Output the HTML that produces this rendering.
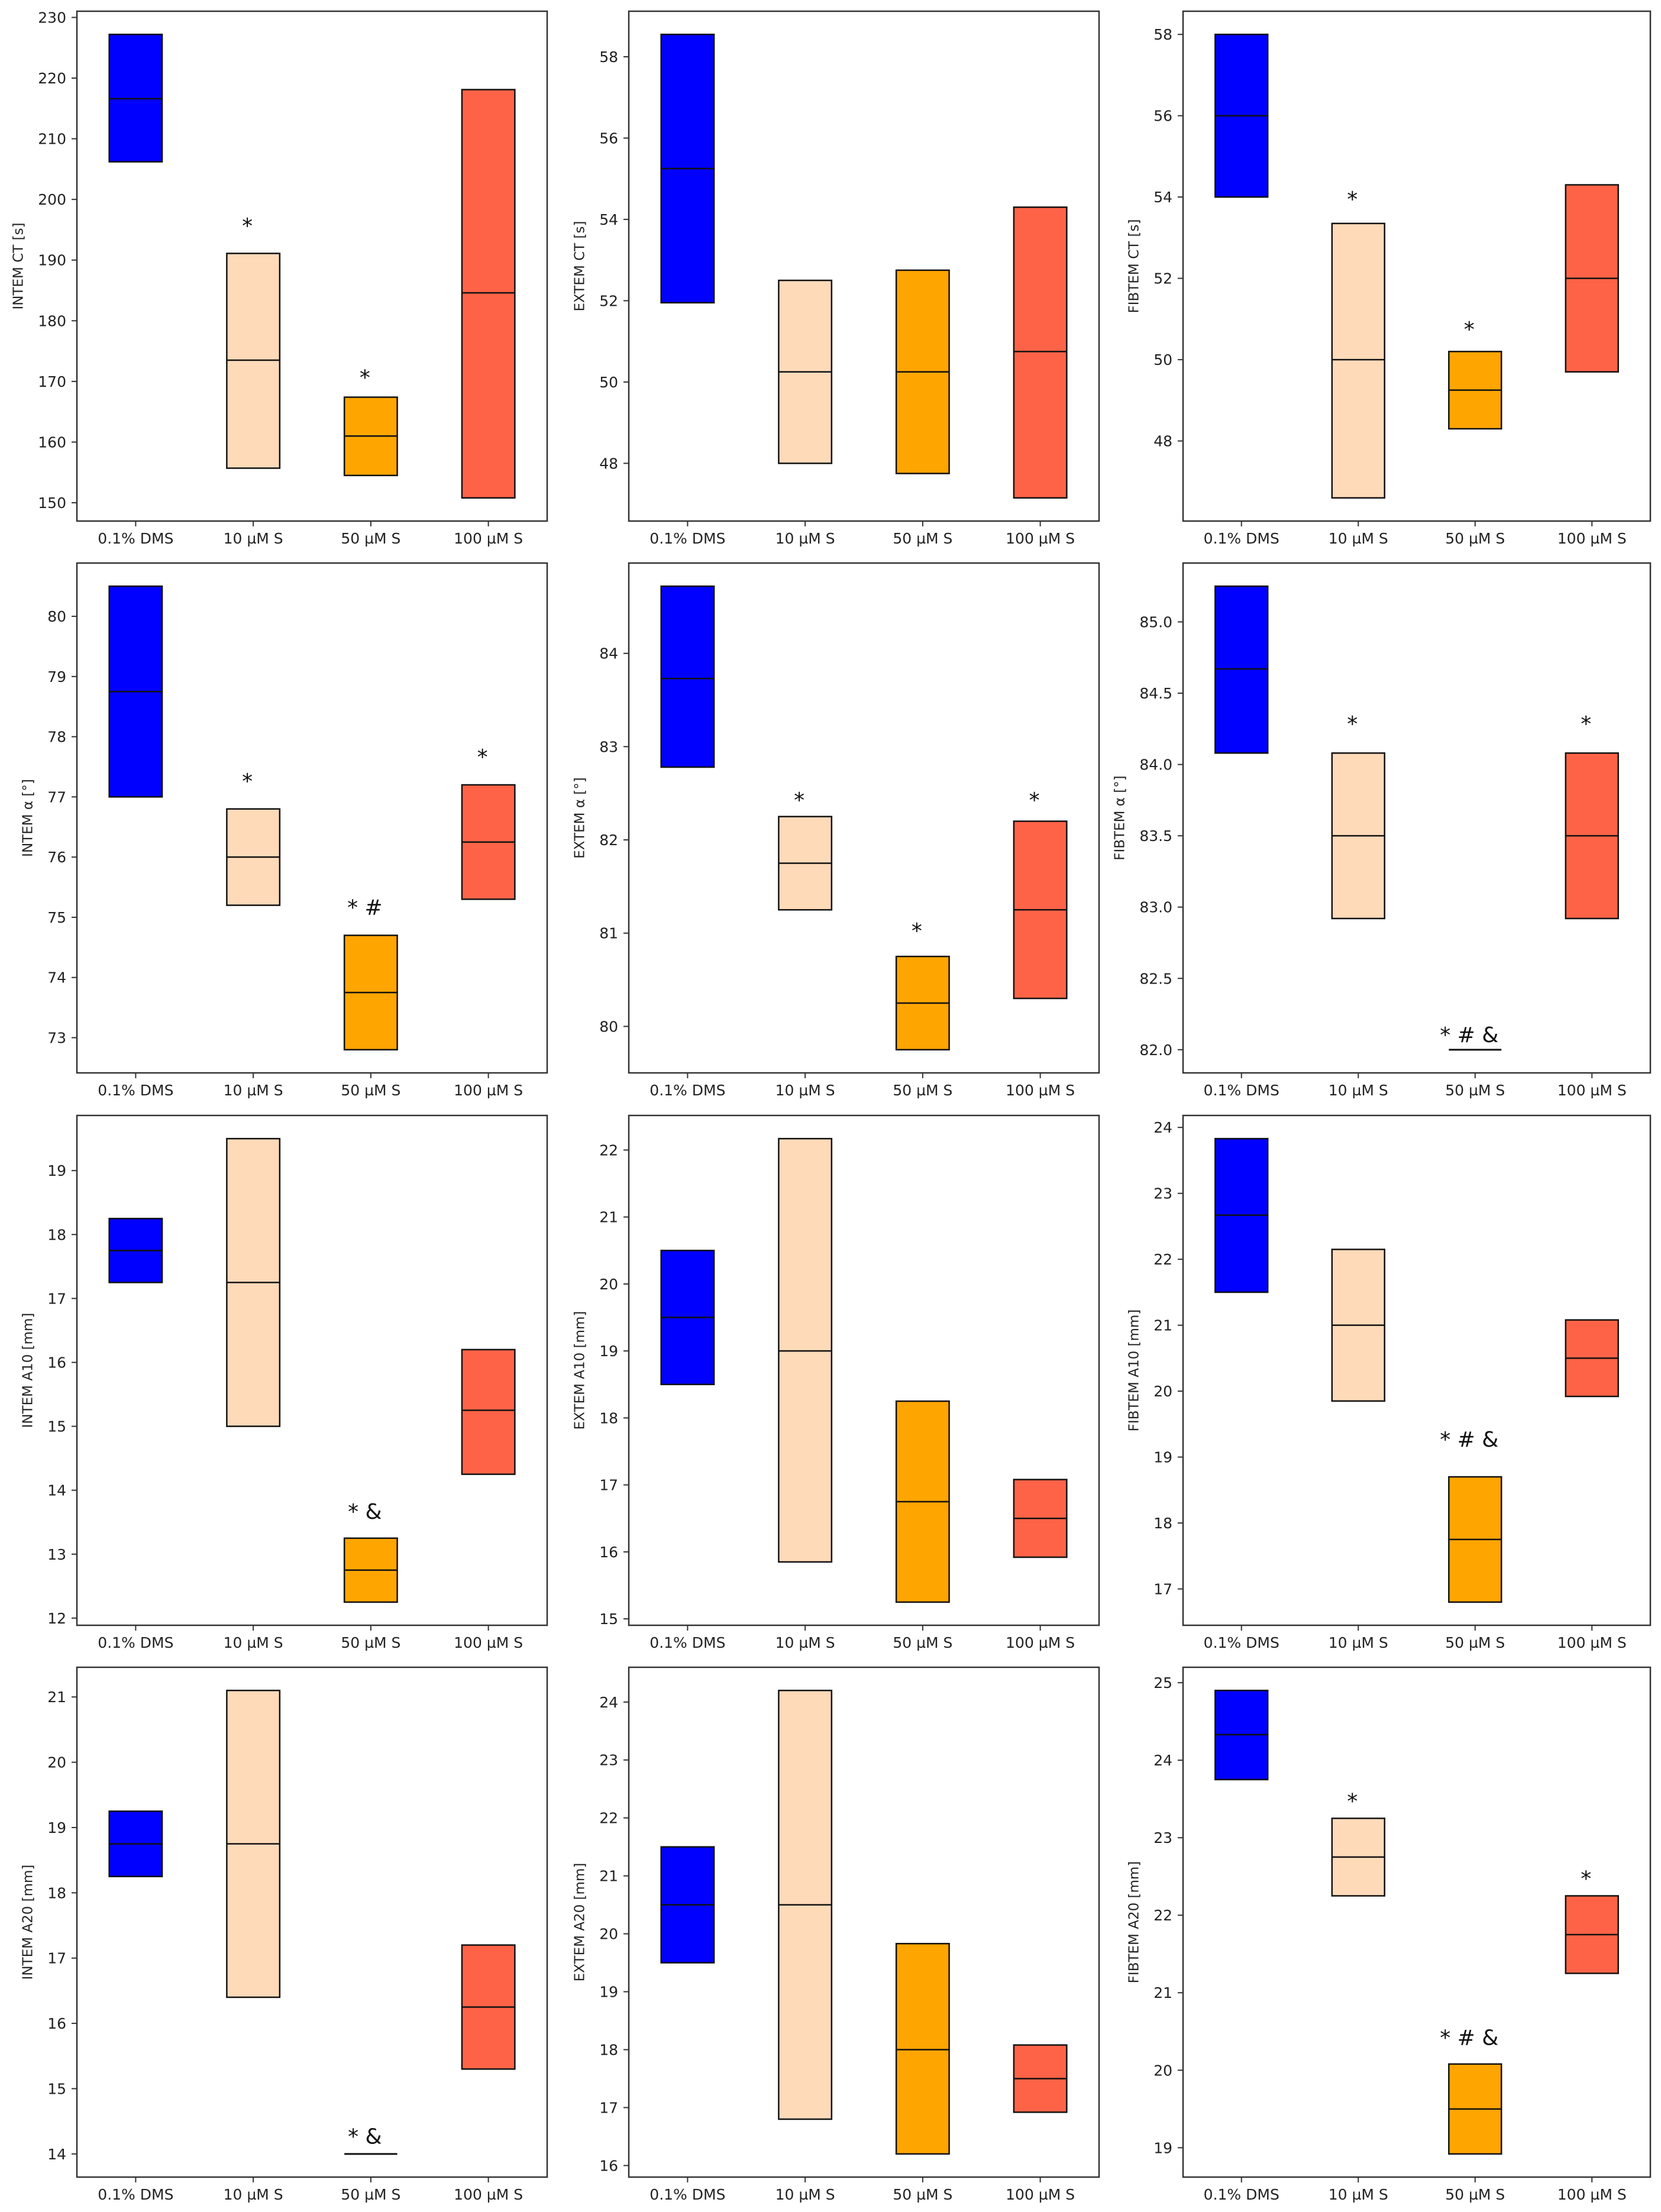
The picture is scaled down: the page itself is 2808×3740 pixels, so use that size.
<!DOCTYPE html>
<html><head><meta charset="utf-8">
<style>
html,body{margin:0;padding:0;background:#fff;}
svg{display:block;font-family:"DejaVu Sans","Liberation Sans",sans-serif;}
</style></head>
<body>
<svg id="fig" width="2808" height="3740" viewBox="0 0 2808 3740" xmlns="http://www.w3.org/2000/svg"></svg>
<script>
const categories = ["0.1% DMS","10 µM S","50 µM S","100 µM S"];
const colors = ["#0000ff","#ffdab9","#ffa500","#ff6347"];
const ylabels = ["INTEM CT [s]","EXTEM CT [s]","FIBTEM CT [s]","INTEM α [°]","EXTEM α [°]","FIBTEM α [°]","INTEM A10 [mm]","EXTEM A10 [mm]","FIBTEM A10 [mm]","INTEM A20 [mm]","EXTEM A20 [mm]","FIBTEM A20 [mm]"];
const lows = [
 [206.2,155.7,154.5,150.8],[51.95,48.0,47.75,47.15],[54.0,46.6,48.3,49.7],
 [77.0,75.2,72.8,75.3],[82.78,81.25,79.75,80.3],[84.08,82.92,82.0,82.92],
 [17.25,15.0,12.25,14.25],[18.5,15.85,15.25,15.92],[21.5,19.85,16.8,19.92],
 [18.25,16.4,14.0,15.3],[19.5,16.8,16.2,16.92],[23.75,22.25,18.92,21.25]];
const highs = [
 [227.2,191.1,167.4,218.1],[58.55,52.5,52.75,54.3],[58.0,53.35,50.2,54.3],
 [80.5,76.8,74.7,77.2],[84.72,82.25,80.75,82.2],[85.25,84.08,82.0,84.08],
 [18.25,19.5,13.25,16.2],[20.5,22.17,18.25,17.08],[23.83,22.15,18.7,21.08],
 [19.25,21.1,14.0,17.2],[21.5,24.2,19.83,18.08],[24.9,23.25,20.08,22.25]];
const medians = [
 [216.6,173.5,161.0,184.6],[55.25,50.25,50.25,50.75],[56.0,50.0,49.25,52.0],
 [78.75,76.0,73.75,76.25],[83.73,81.75,80.25,81.25],[84.67,83.5,null,83.5],
 [17.75,17.25,12.75,15.25],[19.5,19.0,16.75,16.5],[22.67,21.0,17.75,20.5],
 [18.75,18.75,null,16.25],[20.5,20.5,18.0,17.5],[24.33,22.75,19.5,21.75]];
const annotText = [
 ["","*","*",""],["","","",""],["","*","*",""],
 ["","*","* #","*"],["","*","*","*"],["","*","* # &","*"],
 ["","","* &",""],["","","",""],["","","* # &",""],
 ["","","* &",""],["","","",""],["","*","* # &","*"]];
const annotY = [
 [0,196,171,0],[0,0,0,0],[0,54.0,50.8,0],
 [0,77.3,75.2,77.7],[0,82.45,81.05,82.45],[0,84.3,82.12,84.3],
 [0,0,13.7,0],[0,0,0,0],[0,0,19.3,0],
 [0,0,14.3,0],[0,0,0,0],[0,23.5,20.45,22.5]];
const tickStart = [150,48,48,73,80,82.0,12,15,17,14,16,19];
const tickEnd   = [230,58,58,80,84,85.0,19,22,24,21,24,25];
const tickStep  = [10,2,2,1,1,0.5,1,1,1,1,1,1];
const tickDecimals = [0,0,0,0,0,1,0,0,0,0,0,0];

const NS="http://www.w3.org/2000/svg";
const svg=document.getElementById('fig');
const colLeft=[130,1063,2000], colW=[795,795,790], rowTop=[19,952,1886,2819], PH=862;
function mk(tag,attrs,parent){const e=document.createElementNS(NS,tag);for(const k in attrs)e.setAttribute(k,attrs[k]);(parent||svg).appendChild(e);return e;}

for(let p=0;p<12;p++){
  const L=colLeft[p%3], PW=colW[p%3], T=rowTop[Math.floor(p/3)];
  const g=mk('g',{});
  
  
  let mn=Math.min(...lows[p]), mx=Math.max(...highs[p]);
  const r=mx-mn; const y0=mn-0.05*r, y1=mx+0.05*r;
  const ys=v=>T+PH-(v-y0)/(y1-y0)*PH;
  const xs=i=>L+(i+0.5)/4*PW;
  const bw=0.45/4*PW;
  let maxw=0;
  for(let v=tickStart[p];v<=tickEnd[p]+1e-9;v+=tickStep[p]){
    const y=ys(v);
    const t=mk('line',{x1:L-9,x2:L,y1:y,y2:y,stroke:'#333','stroke-width':2},g);
    
    
    const s=v.toFixed(tickDecimals[p]);
    const tx=mk('text',{x:L-18,y:y+9,'text-anchor':'end','font-size':25,fill:'#222'},g);
    tx.textContent=s;
    
    
    maxw=Math.max(maxw,s.replace('.','').length*16+(s.includes('.')?8:0));
  }
  const lx=L-18-maxw-32, ly=T+PH/2;
  const yl=mk('text',{x:lx,y:ly,'text-anchor':'middle','font-size':23,fill:'#222',transform:`rotate(-90 ${lx} ${ly})`,'dominant-baseline':'middle'},g);
  yl.textContent=ylabels[p];
  
  
  for(let i=0;i<4;i++){
    const x=xs(i), yt=ys(highs[p][i]), yb=ys(lows[p][i]);
    if(highs[p][i]-lows[p][i]>1e-9){
      const b=mk('rect',{x:x-bw/2,y:yt,width:bw,height:yb-yt,fill:colors[i],stroke:'#111','stroke-width':2.5},g);
      
      
    } else {
      const b=mk('line',{x1:x-bw/2,x2:x+bw/2,y1:yt,y2:yt,stroke:'#111','stroke-width':3},g);
      
      
    }
    if(medians[p][i]!==null){
      const m=mk('line',{x1:x-bw/2,x2:x+bw/2,y1:ys(medians[p][i]),y2:ys(medians[p][i]),stroke:'#111','stroke-width':2.5},g);
      
      
    }
    if(annotText[p][i]){
      const a=mk('text',{x:x-10,y:ys(annotY[p][i])+16,'text-anchor':'middle','font-size':36,fill:'#111'},g);
      a.textContent=annotText[p][i];
      
      
    }
    const xt=mk('line',{x1:x,x2:x,y1:T+PH,y2:T+PH+9,stroke:'#333','stroke-width':2},g);
    
    
    const xl=mk('text',{x:x,y:T+PH+38,'text-anchor':'middle','font-size':25,fill:'#222'},g);
    xl.textContent=categories[i];
    
    
  }
  const fr=mk('rect',{x:L,y:T,width:PW,height:PH,fill:'none',stroke:'#333','stroke-width':2.5},g);
  
  
}
</script>
</body></html>
